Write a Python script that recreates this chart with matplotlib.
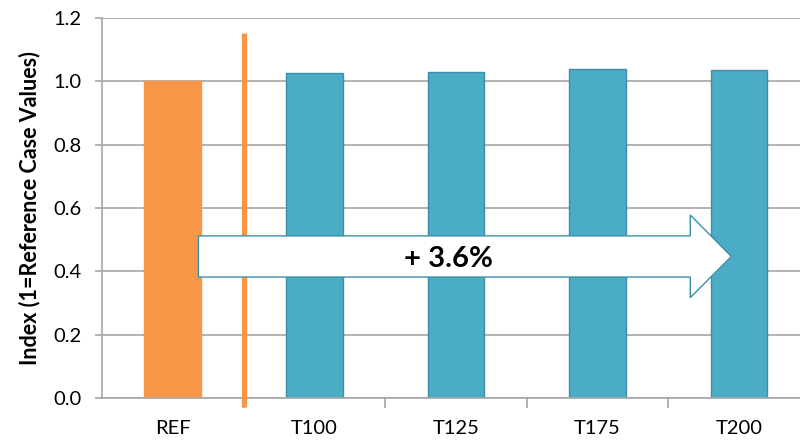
import matplotlib.pyplot as plt
import matplotlib.patches as mpatches

categories = ["REF", "T100", "T125", "T175", "T200"]
index_values = [1.0, 1.027, 1.031, 1.039, 1.036]
change_label = "+ 3.6%"

ORANGE = "#F79646"
TEAL = "#4BACC6"
TEAL_EDGE = "#3A8FA6"
GRID = "#A6A6A6"

plt.rcParams["font.family"] = ["Lato", "DejaVu Sans"]

fig = plt.figure(figsize=(8, 4.47), dpi=100)
ax = fig.add_axes([0.1275, 0.1096, 0.8725, 0.8501])

x = list(range(len(categories)))
colors = [ORANGE] + [TEAL] * (len(categories) - 1)
edges = [ORANGE] + [TEAL_EDGE] * (len(categories) - 1)
ax.bar(x, index_values, width=0.40, color=colors, edgecolor=edges,
       linewidth=1.0, zorder=2)

ax.set_ylim(0, 1.2)
ax.set_xlim(-0.5, 4.43)
ax.set_yticks([0, 0.2, 0.4, 0.6, 0.8, 1.0, 1.2])
ax.set_yticklabels([f"{v:.1f}" for v in ax.get_yticks()], fontsize=14.5)
ax.yaxis.grid(True, color=GRID, linewidth=1.2, zorder=0)
ax.set_axisbelow(True)

# category labels in the middle, tick marks on the category boundaries
ax.set_xticks(x)
ax.set_xticklabels(categories, fontsize=14.5)
ax.tick_params(axis="x", which="major", length=0, pad=16)
ax.set_xticks([i + 0.5 for i in range(len(categories) - 1)], minor=True)
ax.tick_params(axis="x", which="minor", length=7, color=GRID, width=1.2)
ax.tick_params(axis="y", length=5, color=GRID, width=1.2, pad=10)

for side in ["top", "right"]:
    ax.spines[side].set_visible(False)
for side in ["left", "bottom"]:
    ax.spines[side].set_color(GRID)
    ax.spines[side].set_linewidth(1.2)

ax.set_ylabel("Index (1=Reference Case Values)", fontsize=15.5,
              fontweight="bold", labelpad=9)

# separator between the reference case and the scenarios
ax.plot([0.503, 0.503], [-0.028, 1.153], color=ORANGE, linewidth=3.8,
        solid_capstyle="butt", clip_on=False, zorder=4)

# block arrow showing the overall change
body_lo, body_hi = 0.382, 0.512
head_lo, head_hi = 0.317, 0.578
x0, xh, xt = 0.181, 3.655, 3.945
mid = (body_lo + body_hi) / 2
arrow = mpatches.Polygon(
    [(x0, body_lo), (xh, body_lo), (xh, head_lo), (xt, mid),
     (xh, head_hi), (xh, body_hi), (x0, body_hi)],
    closed=True, facecolor="white", edgecolor=TEAL_EDGE, linewidth=1.0,
    zorder=5)
ax.add_patch(arrow)
ax.text(1.95, mid - 0.008, change_label, ha="center", va="center",
        fontsize=21, fontweight="bold", zorder=6)

fig.savefig("out.png", dpi=100)
